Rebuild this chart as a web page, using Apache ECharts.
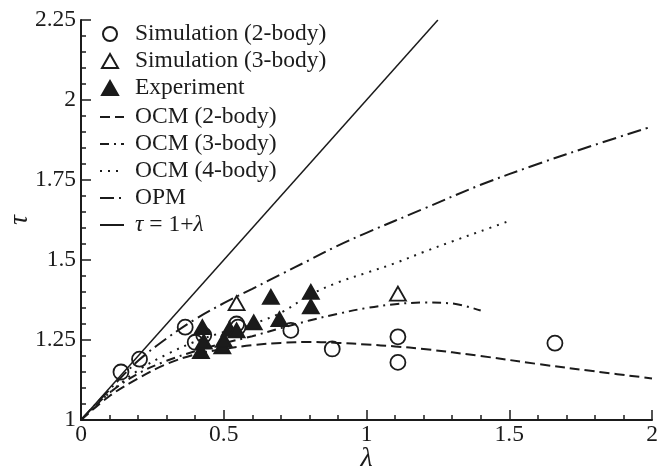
<!DOCTYPE html>
<html>
<head>
<meta charset="utf-8">
<script src="https://cdn.jsdelivr.net/npm/echarts@6/dist/echarts.min.js"></script>
<style>
  html, body { margin: 0; padding: 0; background: #fff; }
  #chart { width: 657px; height: 473px; }
</style>
</head>
<body>
<div id="chart"></div>
<script>
// Measured points
const simTwoBodyX = [0.14, 0.205, 0.365, 0.40, 0.43, 0.545, 0.55, 0.735, 0.88, 1.11, 1.11, 1.66];
const simTwoBodyY = [1.15, 1.19, 1.29, 1.243, 1.265, 1.30, 1.29, 1.28, 1.222, 1.26, 1.18, 1.24];

const simThreeBodyX = [0.545, 1.11];
const simThreeBodyY = [1.365, 1.395];

const experimentX = [0.42, 0.425, 0.43, 0.495, 0.50, 0.52, 0.545, 0.605, 0.665, 0.695, 0.805, 0.805];
const experimentY = [1.215, 1.29, 1.245, 1.23, 1.25, 1.285, 1.28, 1.305, 1.385, 1.315, 1.40, 1.355];

// Model curves
const ocm2X = [0, 0.1, 0.2, 0.3, 0.4, 0.5, 0.6, 0.7, 0.8, 0.9, 1.0, 1.1, 1.2, 1.4, 1.6, 1.8, 2.0];
const ocm2Y = [1, 1.075, 1.13, 1.175, 1.205, 1.222, 1.234, 1.241, 1.244, 1.241, 1.236, 1.23, 1.222, 1.2, 1.175, 1.152, 1.13];

const ocm3X = [0, 0.1, 0.2, 0.3, 0.4, 0.5, 0.6, 0.7, 0.8, 0.9, 1.0, 1.1, 1.2, 1.3, 1.4];
const ocm3Y = [1, 1.085, 1.145, 1.185, 1.215, 1.24, 1.262, 1.287, 1.311, 1.332, 1.35, 1.362, 1.367, 1.364, 1.342];

const ocm4X = [0, 0.1, 0.2, 0.3, 0.4, 0.5, 0.6, 0.7, 0.8, 0.9, 1.0, 1.1, 1.2, 1.3, 1.4, 1.5];
const ocm4Y = [1, 1.085, 1.155, 1.205, 1.245, 1.275, 1.30, 1.335, 1.39, 1.43, 1.46, 1.49, 1.525, 1.558, 1.59, 1.622];

const opmX = [0, 0.1, 0.2, 0.3, 0.4, 0.5, 0.6, 0.7, 0.8, 0.9, 1.0, 1.2, 1.4, 1.6, 1.8, 2.0];
const opmY = [1, 1.095, 1.185, 1.255, 1.315, 1.365, 1.41, 1.455, 1.50, 1.545, 1.585, 1.66, 1.735, 1.80, 1.86, 1.917];

const identityX = [0, 1.25];
const identityY = [1, 2.25];

const xTicks = { min: 0, max: 2, step: 0.5 };
const yTicks = { min: 1, max: 2.25, step: 0.25 };

const INK = '#1b1b1b';
const SERIF = '"Liberation Serif", "DejaVu Serif", serif';

function pairs(xs, ys) {
  return xs.map((x, i) => [x, ys[i]]);
}

const chart = echarts.init(document.getElementById('chart'), null, { renderer: 'canvas' });

function curve(name, xs, ys, dash, width) {
  return {
    name, type: 'line', data: pairs(xs, ys), color: INK,
    symbol: 'none', smooth: 0.35, silent: true, z: 2,
    itemStyle: { color: INK },
    lineStyle: { color: INK, width: width, type: dash }
  };
}

function markers(name, xs, ys, symbol, fill, size) {
  return {
    name, type: 'scatter', data: pairs(xs, ys), color: INK,
    symbol, symbolSize: size, z: 4,
    itemStyle: { color: fill, borderColor: INK, borderWidth: 1.8, opacity: 1 }
  };
}

const legendText = {
  fontFamily: SERIF, fontSize: 23.5, color: INK, lineHeight: 24,
  rich: {
    i: { fontFamily: SERIF, fontSize: 23.5, fontStyle: 'italic', color: INK, lineHeight: 24 }
  }
};

chart.setOption({
  animation: false,
  backgroundColor: '#fff',
  grid: { left: 81, right: 5, top: 20, bottom: 53, containLabel: false, outerBoundsMode: 'none' },
  legend: [
    {
      data: ['Simulation (2-body)', 'Simulation (3-body)', 'Experiment'],
      orient: 'vertical', left: 101, top: 22, padding: 0,
      itemWidth: 16, itemHeight: 14, itemGap: 3,
      textStyle: Object.assign({ padding: [0, 0, 0, 12] }, legendText)
    },
    {
      data: ['OCM (2-body)', 'OCM (3-body)', 'OCM (4-body)', 'OPM', 'τ = 1+λ'],
      orient: 'vertical', left: 99, top: 105, padding: 0,
      itemWidth: 24, itemHeight: 14, itemGap: 3,
      itemStyle: { opacity: 0 },
      textStyle: Object.assign({ padding: [0, 0, 0, 6] }, legendText),
      formatter: function (name) {
        return name === 'τ = 1+λ' ? '{i|τ} = 1+{i|λ}' : name;
      }
    }
  ],
  xAxis: {
    type: 'value', min: xTicks.min, max: xTicks.max, interval: xTicks.step,
    name: 'λ', nameLocation: 'middle', nameGap: 25, nameMoveOverlap: false,
    nameTextStyle: { fontFamily: SERIF, fontSize: 28, fontStyle: 'italic', color: INK },
    axisLine: { lineStyle: { color: INK, width: 2 } },
    axisTick: { inside: true, length: 10, lineStyle: { color: INK, width: 1.5 } },
    minorTick: { show: true, splitNumber: 5, length: 5, lineStyle: { color: INK, width: 1.5 } },
    splitLine: { show: false },
    axisLabel: { fontFamily: SERIF, fontSize: 23.5, color: INK, margin: 3 }
  },
  yAxis: {
    type: 'value', min: yTicks.min, max: yTicks.max, interval: yTicks.step,
    name: 'τ', nameLocation: 'middle', nameGap: 48, nameMoveOverlap: false,
    nameTextStyle: { fontFamily: SERIF, fontSize: 27, fontStyle: 'italic', color: INK },
    axisLine: { lineStyle: { color: INK, width: 2 } },
    axisTick: { inside: true, length: 10, lineStyle: { color: INK, width: 1.5 } },
    minorTick: { show: true, splitNumber: 5, length: 5, lineStyle: { color: INK, width: 1.5 } },
    splitLine: { show: false },
    axisLabel: { fontFamily: SERIF, fontSize: 23.5, color: INK, margin: 5 }
  },
  series: [
    markers('Simulation (2-body)', simTwoBodyX, simTwoBodyY, 'circle', 'rgba(0,0,0,0)', 15),
    markers('Simulation (3-body)', simThreeBodyX, simThreeBodyY, 'triangle', 'rgba(0,0,0,0)', [16, 14]),
    markers('Experiment', experimentX, experimentY, 'triangle', INK, [16, 14]),
    curve('OCM (2-body)', ocm2X, ocm2Y, [10, 5], 2),
    curve('OCM (3-body)', ocm3X, ocm3Y, [9, 5, 2, 5], 2),
    curve('OCM (4-body)', ocm4X, ocm4Y, [2, 6], 2),
    curve('OPM', opmX, opmY, [14, 5, 2, 5], 2),
    Object.assign(curve('τ = 1+λ', identityX, identityY, 'solid', 1.5), { smooth: false })
  ]
});
</script>
</body>
</html>
